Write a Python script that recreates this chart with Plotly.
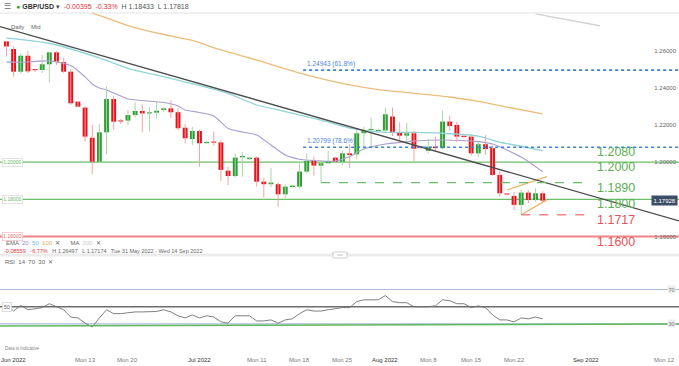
import plotly.graph_objects as go
from datetime import date

# ---------------- data ----------------
DATES = [
    "2022-05-31", "2022-06-01", "2022-06-02", "2022-06-03", "2022-06-05", "2022-06-06",
    "2022-06-07", "2022-06-08", "2022-06-09", "2022-06-10", "2022-06-12", "2022-06-13",
    "2022-06-14", "2022-06-15", "2022-06-16", "2022-06-17", "2022-06-19", "2022-06-20",
    "2022-06-21", "2022-06-22", "2022-06-23", "2022-06-24", "2022-06-26", "2022-06-27",
    "2022-06-28", "2022-06-29", "2022-06-30", "2022-07-01", "2022-07-03", "2022-07-04",
    "2022-07-05", "2022-07-06", "2022-07-07", "2022-07-08", "2022-07-10", "2022-07-11",
    "2022-07-12", "2022-07-13", "2022-07-14", "2022-07-15", "2022-07-17", "2022-07-18",
    "2022-07-19", "2022-07-20", "2022-07-21", "2022-07-22", "2022-07-24", "2022-07-25",
    "2022-07-26", "2022-07-27", "2022-07-28", "2022-07-29", "2022-07-31", "2022-08-01",
    "2022-08-02", "2022-08-03", "2022-08-04", "2022-08-05", "2022-08-07", "2022-08-08",
    "2022-08-09", "2022-08-10", "2022-08-11", "2022-08-12", "2022-08-14", "2022-08-15",
    "2022-08-16", "2022-08-17", "2022-08-18", "2022-08-19", "2022-08-21", "2022-08-22",
    "2022-08-23", "2022-08-24", "2022-08-25", "2022-08-26",
]
OPEN = [
    1.26487, 1.2608, 1.2486, 1.2572, 1.2500, 1.2495,
    1.2526, 1.2590, 1.2537, 1.2486, 1.2325, 1.2293,
    1.2131, 1.2002, 1.2160, 1.2339, 1.2222, 1.2223,
    1.2253, 1.2275, 1.2262, 1.2266, 1.2280, 1.2289,
    1.2268, 1.2185, 1.2124, 1.2167, 1.2102, 1.2110,
    1.2106, 1.1954, 1.1925, 1.2026, 1.2016, 1.2024,
    1.1895, 1.1881, 1.1881, 1.1827, 1.1866, 1.1868,
    1.1949, 1.2006, 1.1981, 1.1994, 1.2024, 1.2002,
    1.2047, 1.2042, 1.2155, 1.2173, 1.2167, 1.2170,
    1.2245, 1.2162, 1.2142, 1.2155, 1.2083, 1.2060,
    1.2083, 1.2075, 1.2218, 1.2200, 1.2140, 1.2137,
    1.2047, 1.2096, 1.2075, 1.1931, 1.1830, 1.1818,
    1.1770, 1.1836, 1.1796, 1.18323,
]
HIGH = [
    1.26497, 1.2620, 1.2585, 1.2597, 1.2503, 1.2576,
    1.2594, 1.2597, 1.2560, 1.2500, 1.2328, 1.2300,
    1.2200, 1.2205, 1.2406, 1.2357, 1.2232, 1.2280,
    1.2321, 1.2310, 1.2295, 1.2321, 1.2295, 1.2333,
    1.2290, 1.2205, 1.2190, 1.2175, 1.2115, 1.2165,
    1.2118, 1.1975, 1.2047, 1.2055, 1.2027, 1.2030,
    1.1915, 1.1967, 1.1890, 1.1880, 1.1878, 1.2002,
    1.2047, 1.2030, 1.2010, 1.2060, 1.2030, 1.2060,
    1.2096, 1.2180, 1.2190, 1.2239, 1.2180, 1.2293,
    1.2294, 1.2215, 1.2212, 1.2168, 1.2088, 1.2125,
    1.2137, 1.2276, 1.2250, 1.2215, 1.2148, 1.2145,
    1.2110, 1.2145, 1.2090, 1.1950, 1.1835, 1.1840,
    1.1850, 1.1849, 1.1859, 1.18433,
]
LOW = [
    1.2567, 1.2459, 1.2477, 1.2479, 1.2484, 1.2479,
    1.2429, 1.2522, 1.2480, 1.2307, 1.2295, 1.2110,
    1.1936, 1.1995, 1.2042, 1.2173, 1.2205, 1.2199,
    1.2240, 1.2160, 1.2165, 1.2235, 1.2270, 1.2235,
    1.2170, 1.2101, 1.2092, 1.1975, 1.2098, 1.2090,
    1.1898, 1.1877, 1.1918, 1.1922, 1.2012, 1.1868,
    1.1809, 1.1865, 1.1760, 1.1805, 1.1862, 1.1860,
    1.1940, 1.1927, 1.1889, 1.1990, 1.2000, 1.1985,
    1.1967, 1.2015, 1.2065, 1.2074, 1.2160, 1.2160,
    1.2140, 1.2115, 1.2100, 1.2005, 1.2070, 1.2045,
    1.2055, 1.2067, 1.2170, 1.2107, 1.2128, 1.2035,
    1.2030, 1.2040, 1.1925, 1.1815, 1.1822, 1.1742,
    1.17174, 1.1780, 1.1788, 1.17818,
]
CLOSE = [
    1.2622, 1.2486, 1.2572, 1.2488, 1.2494, 1.2526,
    1.2590, 1.2540, 1.2486, 1.2316, 1.2298, 1.2137,
    1.2002, 1.2160, 1.2339, 1.2217, 1.2220, 1.2253,
    1.2275, 1.2262, 1.2267, 1.2276, 1.2289, 1.2268,
    1.2182, 1.2128, 1.2167, 1.2101, 1.2108, 1.2105,
    1.1958, 1.1925, 1.2024, 1.2033, 1.2024, 1.1895,
    1.1881, 1.1890, 1.1827, 1.1868, 1.1874, 1.1949,
    1.2006, 1.1981, 1.1994, 1.2006, 1.2002, 1.2047,
    1.2038, 1.2155, 1.2173, 1.2178, 1.2173, 1.2257,
    1.2162, 1.2142, 1.2155, 1.2072, 1.2076, 1.2083,
    1.2075, 1.2218, 1.2194, 1.2137, 1.2136, 1.2047,
    1.2096, 1.2070, 1.1931, 1.1832, 1.1827, 1.1770,
    1.1836, 1.1796, 1.18323, 1.17928,
]
RSI_VALUES = [
    53, 45, 51.5, 46.5, 47.6, 49, 53.5, 50, 46.5, 38, 37, 31,
    26.5, 37, 46.5, 42, 42, 43, 44, 44, 44, 44.5, 46.5, 44,
    39.5, 37, 40.5, 37, 39.5, 38, 32.5, 31, 39.5, 39.5, 39.5, 33.5,
    33.5, 34.7, 31, 34.7, 36, 42, 46.5, 45, 45, 46.5, 47.6, 49,
    49, 56, 58, 58, 58, 63, 56, 54.7, 54.7, 50, 50, 50,
    51, 58, 57, 53.5, 53.5, 49, 51, 49, 40.5, 34.7, 34.7, 32.4,
    37, 36, 38, 36,
]

EMA20_DATES = ["2022-05-31", "2022-06-02", "2022-06-07", "2022-06-10", "2022-06-13", "2022-06-14",
               "2022-06-15", "2022-06-16", "2022-06-19", "2022-06-20", "2022-06-22", "2022-06-26",
               "2022-06-28", "2022-06-29", "2022-07-01", "2022-07-04", "2022-07-06", "2022-07-08",
               "2022-07-11", "2022-07-13", "2022-07-15", "2022-07-18", "2022-07-21", "2022-07-24",
               "2022-07-26", "2022-07-28", "2022-08-01", "2022-08-05", "2022-08-10", "2022-08-16",
               "2022-08-18", "2022-08-23", "2022-08-26"]
EMA20_VALUES = [1.2539, 1.2537, 1.2544, 1.2519, 1.2458, 1.2420, 1.2398, 1.2388, 1.2355, 1.2339,
                1.2331, 1.2320, 1.2302, 1.2280, 1.2267, 1.2248, 1.2181, 1.2162, 1.2146, 1.2092,
                1.2038, 1.2015, 1.2006, 1.2006, 1.2030, 1.2070, 1.2097, 1.2113, 1.2119, 1.2110,
                1.2097, 1.2027, 1.1948]
EMA50_DATES = ["2022-05-31", "2022-06-07", "2022-06-15", "2022-06-20", "2022-06-26", "2022-07-01",
               "2022-07-06", "2022-07-11", "2022-07-15", "2022-07-21", "2022-07-26", "2022-08-01",
               "2022-08-05", "2022-08-10", "2022-08-16", "2022-08-19", "2022-08-26"]
EMA50_VALUES = [1.2667, 1.2639, 1.2560, 1.2504, 1.2459, 1.2412, 1.2370, 1.2307, 1.2272, 1.2226,
                1.2183, 1.2160, 1.2160, 1.2155, 1.2140, 1.2108, 1.2062]
EMA100_DATES = ["2022-06-10", "2022-06-16", "2022-06-20", "2022-06-26", "2022-06-30", "2022-07-05",
                "2022-07-11", "2022-07-15", "2022-07-20", "2022-07-26", "2022-07-31", "2022-08-05",
                "2022-08-11", "2022-08-16", "2022-08-21", "2022-08-26"]
EMA100_VALUES = [1.2839, 1.2775, 1.2734, 1.2686, 1.2654, 1.2603, 1.2549, 1.2501, 1.2458, 1.2415,
                 1.2390, 1.2370, 1.2350, 1.2326, 1.2296, 1.2259]
MA200_DATES = ["2022-08-25", "2022-09-03"]
MA200_VALUES = [1.2797, 1.2733]

TREND_DATES = ["2022-05-31", "2022-09-14"]
TREND_VALUES = [1.2719, 1.1685]

FIB_LEVELS = [1.24943, 1.20799]
FIB_LABELS = ["1.24943 (61.8%)", "1.20799 (78.6%)"]
FIB_START = "2022-07-18"

SOLID_LEVELS = [1.2000, 1.1800, 1.1600]
SOLID_LABELS = ["1.20000", "1.18000", "1.16000"]
SOLID_SIDE = ["up", "up", "down"]
DASHED_LEVELS = [1.1890, 1.1717]
DASHED_STARTS = ["2022-07-21", "2022-08-23"]
DASHED_SIDE = ["up", "down"]
DASHED_END = "2022-09-01"

KEY_LEVELS = [1.2080, 1.2000, 1.1890, 1.1800, 1.1717, 1.1600]
KEY_LABELS = ["1.2080", "1.2000", "1.1890", "1.1800", "1.1717", "1.1600"]
KEY_SIDE = ["up", "up", "up", "up", "down", "down"]

WEDGE_UPPER_DATES = ["2022-08-21", "2022-08-26"]
WEDGE_UPPER_VALUES = [1.1850, 1.1922]
WEDGE_LOWER_DATES = ["2022-08-23", "2022-08-26"]
WEDGE_LOWER_VALUES = [1.1717, 1.1797]

PRICE_TICKS = [1.16, 1.20, 1.22, 1.24, 1.26]
X_TICK_DATES = ["2022-06-01", "2022-06-13", "2022-06-20", "2022-07-01", "2022-07-11", "2022-07-18",
                "2022-07-25", "2022-08-01", "2022-08-08", "2022-08-15", "2022-08-22", "2022-09-01",
                "2022-09-12"]
X_TICK_LABELS = ["Jun 2022", "Mon 13", "Mon 20", "Jul 2022", "Mon 11", "Mon 18", "Mon 25",
                 "Aug 2022", "Mon 8", "Mon 15", "Mon 22", "Sep 2022", "Mon 12"]
VIEW_END = "2022-09-14"
RSI_LEVELS = [70, 50, 30]

# ---------------- styling ----------------
W, H = 679, 366
FONT = "Liberation Sans, Arial, sans-serif"
UP, DOWN = "#2f9e36", "#e5141c"
UP_WICK, DOWN_WICK = "#a6d8a2", "#f3a3a5"
GREEN_LVL, RED_LVL = "#6cbf67", "#f08487"
GREEN_TXT, RED_TXT = "#5cb155", "#e8535a"

_idx = {d: i for i, d in enumerate(DATES)}
_last = date.fromisoformat(DATES[-1])


def pos(d):
    if d in _idx:
        return _idx[d]
    return len(DATES) - 1 + (date.fromisoformat(d) - _last).days


def px(x):
    return x / W


def py(y):
    return 1 - y / H


N = len(DATES)
XI = list(range(N))
X_LEFT = -0.9
X_RIGHT = pos(VIEW_END) + 0.07
Y_MAIN = [1.151129, 1.280161]
Y_RSI = [11.4, 105.4]

fig = go.Figure()

# EMAs / MA
for ds, vs, col, w in [(EMA100_DATES, EMA100_VALUES, "#ebbd7b", 1.3),
                       (EMA50_DATES, EMA50_VALUES, "#8ed4d9", 1.3),
                       (EMA20_DATES, EMA20_VALUES, "#a99dd2", 1.1),
                       (MA200_DATES, MA200_VALUES, "#d2d2d2", 1.3)]:
    fig.add_trace(go.Scatter(x=[pos(d) for d in ds], y=vs, mode="lines",
                             line=dict(color=col, width=w, shape="spline", smoothing=0.6),
                             hoverinfo="skip"))

# wicks
for up, col in [(True, UP_WICK), (False, DOWN_WICK)]:
    xs, ys = [], []
    for i in XI:
        if (CLOSE[i] >= OPEN[i]) == up:
            xs += [i, i, None]
            ys += [LOW[i], HIGH[i], None]
    fig.add_trace(go.Scatter(x=xs, y=ys, mode="lines", line=dict(color=col, width=1),
                             hoverinfo="skip"))

# bodies
MIN_BODY = 0.0006
bases, heights, cols = [], [], []
for o, c in zip(OPEN, CLOSE):
    h = max(abs(c - o), MIN_BODY)
    mid = (o + c) / 2
    bases.append(mid - h / 2)
    heights.append(h)
    cols.append(UP if c >= o else DOWN)
fig.add_trace(go.Bar(x=XI, y=heights, base=bases, width=0.68,
                     marker=dict(color=cols, line=dict(width=0)), hoverinfo="skip"))

# wedge
for ds, vs in [(WEDGE_UPPER_DATES, WEDGE_UPPER_VALUES), (WEDGE_LOWER_DATES, WEDGE_LOWER_VALUES)]:
    xs = [pos(d) for d in ds]
    xs[-1] += 0.6
    fig.add_trace(go.Scatter(x=xs, y=vs, mode="lines", line=dict(color="#eab26a", width=1.2),
                             hoverinfo="skip"))

# trend line extended to the view edges
tx = [pos(d) for d in TREND_DATES]
slope = (TREND_VALUES[1] - TREND_VALUES[0]) / (tx[1] - tx[0])
fig.add_trace(go.Scatter(x=[X_LEFT, X_RIGHT],
                         y=[TREND_VALUES[0] + slope * (X_LEFT - tx[0]),
                            TREND_VALUES[0] + slope * (X_RIGHT - tx[0])],
                         mode="lines", line=dict(color="#4d4d4d", width=1.3), hoverinfo="skip"))

# RSI
fig.add_trace(go.Scatter(x=XI, y=RSI_VALUES, mode="lines", xaxis="x2", yaxis="y2",
                         line=dict(color="#727272", width=0.9), hoverinfo="skip"))

shapes = []
# solid levels
for lv, side in zip(SOLID_LEVELS, SOLID_SIDE):
    shapes.append(dict(type="line", xref="paper", yref="y", x0=0, x1=1, y0=lv, y1=lv,
                       line=dict(color=GREEN_LVL if side == "up" else RED_LVL,
                                 width=1.3 if side == "up" else 2), layer="below"))
# dashed levels
for lv, st, side in zip(DASHED_LEVELS, DASHED_STARTS, DASHED_SIDE):
    shapes.append(dict(type="line", xref="x", yref="y", x0=pos(st), x1=pos(DASHED_END) + 0.6,
                       y0=lv, y1=lv,
                       line=dict(color=GREEN_LVL if side == "up" else RED_LVL, width=1.3,
                                 dash="dash")))
# fib levels
for lv in FIB_LEVELS:
    shapes.append(dict(type="line", xref="x", yref="y", x0=pos(FIB_START) + 0.5, x1=X_RIGHT,
                       y0=lv, y1=lv, line=dict(color="#3f80d6", width=1.6, dash="dot")))
# RSI levels
rsi_cols = {70: "#a9bcd8", 50: "#6d6d6d", 30: "#a9bcd8"}
for lv in RSI_LEVELS:
    shapes.append(dict(type="line", xref="paper", yref="y2", x0=0, x1=1, y0=lv, y1=lv,
                       line=dict(color=rsi_cols[lv], width=1.5 if lv == 50 else 1.2),
                       layer="below"))
shapes.append(dict(type="line", xref="paper", yref="y2", x0=0, x1=1, y0=27.7, y1=30,
                   line=dict(color="#62b85c", width=1.5)))
# header separator and pane separator
shapes.append(dict(type="line", xref="paper", yref="paper", x0=0, x1=1, y0=py(13), y1=py(13),
                   line=dict(color="#e4e4e4", width=1)))
shapes.append(dict(type="rect", xref="paper", yref="paper", x0=0, x1=1, y0=py(256.5), y1=py(253.5),
                   fillcolor="#ececec", line=dict(width=0)))
shapes.append(dict(type="rect", xref="paper", yref="paper", x0=px(333), x1=px(347),
                   y0=py(258), y1=py(252), fillcolor="white", line=dict(color="#c4c4c4", width=0.8)))
shapes.append(dict(type="line", xref="paper", yref="paper", x0=px(337), x1=px(343),
                   y0=py(255), y1=py(255), line=dict(color="#b0b0b0", width=0.8)))

ann = []


def text(x, y, t, size=7, color="#555", xanchor="left", **kw):
    ann.append(dict(x=px(x), y=py(y), xref="paper", yref="paper", text=t, showarrow=False,
                    xanchor=xanchor, yanchor="middle", font=dict(family=FONT, size=size, color=color),
                    **kw))


# header
chg = CLOSE[-1] - CLOSE[-2]
text(2, 6, "☰", size=8, color="#666")
text(14, 6,
     f'<span style="color:#35a33a">●</span> <b><span style="color:#333">GBP/USD</span></b> '
     f'<span style="color:#444">▾</span>  '
     f'<span style="color:#e2343a">{chg:+.5f}  {chg / CLOSE[-2] * 100:+.2f}%</span>  '
     f'H {HIGH[-1]:.5f}  L {LOW[-1]:.5f}', size=7, color="#555")
text(9, 27, "Daily    Mid", size=6, color="#666")

# bottom legend of main pane
text(4, 243, 'EMA  <span style="color:#9b8fd0">20</span>  <span style="color:#5fc3cc">50</span>  '
             '<span style="color:#e2ad5f">100</span>  ✕      MA  <span style="color:#cccccc">200</span>  ✕',
     size=6, color="#666")
tot = CLOSE[-1] - OPEN[0]
text(2, 251, f'<span style="color:#e2343a">{tot:+.5f}   {tot / OPEN[0] * 100:+.2f}%</span>   '
             f'H {max(HIGH):.5f}   L {min(LOW):.5f}   '
             f'Tue 31 May 2022 - Wed 14 Sep 2022', size=5.5, color="#666")

# fib labels
for lv, lab in zip(FIB_LEVELS, FIB_LABELS):
    ann.append(dict(x=pos(FIB_START) + 0.8, y=lv, xref="x", yref="y", text=lab, showarrow=False,
                    xanchor="left", yanchor="bottom", yshift=0,
                    font=dict(family=FONT, size=6.5, color="#4a86d6")))

# key level labels
for lv, lab, side in zip(KEY_LEVELS, KEY_LABELS, KEY_SIDE):
    ann.append(dict(x=px(595), y=lv, xref="paper", yref="y", text=lab, showarrow=False,
                    xanchor="left", yanchor="middle", yshift=-5,
                    font=dict(family=FONT, size=12.5, color=GREEN_TXT if side == "up" else RED_TXT)))

# left boxed level labels
for lv, lab, side in zip(SOLID_LEVELS, SOLID_LABELS, SOLID_SIDE):
    ann.append(dict(x=px(2), y=lv, xref="paper", yref="y", text=lab, showarrow=False,
                    xanchor="left", yanchor="middle", bgcolor="white",
                    bordercolor="#dcdcdc" if side == "up" else "#f3c4c6", borderwidth=0.8, borderpad=0.5,
                    font=dict(family=FONT, size=5, color="#6cb867" if side == "up" else "#e5686d")))

# current price tag
ann.append(dict(x=1, y=CLOSE[-1], xref="paper", yref="y", text=f"{CLOSE[-1]:.5f}", showarrow=False,
                xanchor="right", yanchor="middle", xshift=-1, bgcolor="#3c4d66", borderpad=1.5,
                font=dict(family=FONT, size=6, color="white")))

# RSI pane labels
text(3, 262, "RSI  14  70  30  ✕", size=6, color="#666")
ann.append(dict(x=px(2), y=50, xref="paper", yref="y2", text="50", showarrow=False, xanchor="left",
                yanchor="middle", bgcolor="white", bordercolor="#d6d6d6", borderwidth=0.8, borderpad=1,
                font=dict(family=FONT, size=5.5, color="#666")))
for lv in (70, 30):
    ann.append(dict(x=px(676), y=lv, xref="paper", yref="y2", text=str(lv), showarrow=False,
                    xanchor="right", yanchor="middle", bgcolor="#eeeeee", borderpad=0.5,
                    font=dict(family=FONT, size=5.5, color="#777")))

# bottom
text(3, 348, "Data is indicative", size=4.5, color="#888")
for d, lab in zip(X_TICK_DATES, X_TICK_LABELS):
    month = not lab.startswith("Mon")
    ann.append(dict(x=pos(d), y=py(360), xref="x", yref="paper", text=lab, showarrow=False,
                    xanchor="center", yanchor="middle",
                    font=dict(family=FONT, size=6, color="#333" if month else "#777")))

fig.update_layout(
    width=W, height=H, autosize=False,
    margin=dict(l=0, r=0, t=0, b=0),
    paper_bgcolor="white", plot_bgcolor="white",
    showlegend=False, barmode="overlay",
    xaxis=dict(domain=[0, 1], range=[X_LEFT, X_RIGHT], visible=False, anchor="y"),
    yaxis=dict(domain=[py(253), py(13)], range=Y_MAIN, side="right", ticklabelposition="inside",
               tickvals=PRICE_TICKS, ticktext=[f"{v:.5f}" for v in PRICE_TICKS],
               tickfont=dict(family=FONT, size=6, color="#666"), showgrid=False, zeroline=False,
               showline=False, ticks="", anchor="x"),
    xaxis2=dict(domain=[0, 1], range=[X_LEFT, X_RIGHT], visible=False, anchor="y2", matches="x"),
    yaxis2=dict(domain=[py(340), py(259)], range=Y_RSI, visible=False, anchor="x2"),
    shapes=shapes, annotations=ann,
    hovermode=False,
)

fig.write_html("out.html", config={"displayModeBar": False, "staticPlot": True},
               post_script="document.body.style.margin='0';document.body.style.overflow='hidden';")
